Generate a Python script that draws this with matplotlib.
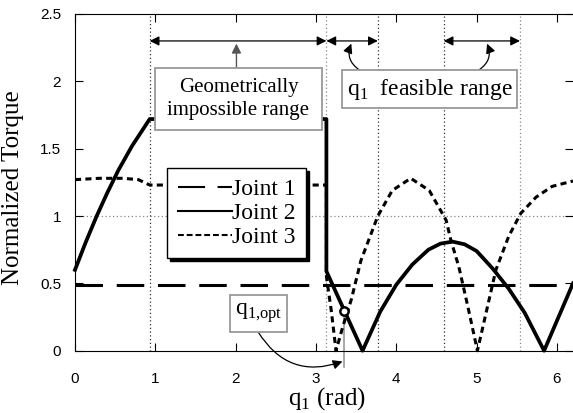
import matplotlib
matplotlib.use('Agg')
import matplotlib.pyplot as plt
from matplotlib.lines import Line2D
from matplotlib.patches import Rectangle

plt.rcParams['font.family'] = ['Liberation Serif', 'DejaVu Serif']
plt.rcParams['mathtext.fontset'] = 'custom'
plt.rcParams['mathtext.rm'] = 'Liberation Serif'

# data
joint1_q = [0.0, 6.2]
joint1_t = [0.49, 0.49]

joint2_q = [0.0, 0.13, 0.27, 0.40, 0.54, 0.71, 0.93, 3.13, 3.13, 3.58, 3.80, 4.00,
            4.20, 4.40, 4.55, 4.70, 4.85, 5.00, 5.20, 5.40, 5.60, 5.84, 6.20]
joint2_t = [0.60, 0.80, 1.00, 1.17, 1.34, 1.52, 1.72, 1.72, 0.59, 0.0, 0.29, 0.49,
            0.64, 0.75, 0.795, 0.81, 0.79, 0.74, 0.61, 0.46, 0.28, 0.0, 0.50]

joint3_q = [0.0, 0.3, 0.6, 0.79, 0.93, 1.5, 3.13, 3.13, 3.19, 3.25, 3.33, 3.44, 3.56,
            3.77, 3.95, 4.18, 4.41, 4.62, 4.68, 4.78, 4.89, 5.01, 5.24, 5.40, 5.55,
            5.74, 5.94, 6.20]
joint3_t = [1.27, 1.28, 1.28, 1.27, 1.23, 1.23, 1.23, 0.55, 0.30, 0.0, 0.17, 0.38, 0.67,
            1.00, 1.19, 1.28, 1.19, 0.97, 0.82, 0.62, 0.33, 0.0, 0.60, 0.85, 1.02,
            1.14, 1.22, 1.26]

q_opt = 3.355
t_opt = 0.295

# bounds of the ranges (rad)
q_impossible = (0.93, 3.13)
q_feasible_a = (3.13, 3.77)
q_feasible_b = (4.59, 5.54)
black_vlines = [0.93, 3.77, 4.59]
gray_vlines = [3.13, 5.54]

xticks = [0, 1, 2, 3, 4, 5, 6]
yticks = [0, 0.5, 1, 1.5, 2, 2.5]
ytick_labels = ['0', '0.5', '1', '1.5', '2', '2.5']

fig = plt.figure(figsize=(5.73, 4.13), dpi=100)
ax = fig.add_axes([75 / 573, 62.3 / 413, 498 / 573, 336.7 / 413])

ax.set_xlim(0, 6.2)
ax.set_ylim(0, 2.5)
ax.spines['right'].set_visible(False)
for s in ('left', 'top', 'bottom'):
    ax.spines[s].set_linewidth(0.8)

ax.set_xticks(xticks)
ax.set_yticks(yticks)
ax.set_xticklabels([str(v) for v in xticks], family='Liberation Sans', fontsize=11)
ax.set_yticklabels(ytick_labels, family='Liberation Sans', fontsize=11)
ax.tick_params(axis='both', direction='in', length=6, width=0.8,
               top=True, right=True)
ax.tick_params(axis='x', pad=15)
ax.tick_params(axis='y', pad=10)

# guide lines
ax.axhline(1.0, color='#888888', lw=0.9, ls=(0, (1, 2)), zorder=1)
for xv in black_vlines:
    ax.axvline(xv, color='#333333', lw=0.9, ls=(0, (1, 2)), zorder=1)
for xv in gray_vlines:
    ax.axvline(xv, color='#888888', lw=0.9, ls=(0, (1, 2)), zorder=1)

ax.plot(joint1_q, joint1_t, color='k', lw=2.2, dashes=(9, 4.5), zorder=3,
        clip_on=False)
ax.plot(joint3_q, joint3_t, color='k', lw=2.2, dashes=(2, 1.4), zorder=3,
        clip_on=False)
ax.plot(joint2_q, joint2_t, color='k', lw=2.7, zorder=4, clip_on=False)

# optimum marker and its guide
ax.plot([q_opt, q_opt], [t_opt, -0.12], color='#999999', lw=1.2, clip_on=False,
        zorder=2)
ax.plot([q_opt], [t_opt], 'o', ms=6, mfc='white', mec='k', mew=1.8, zorder=6)

# range arrows
arrow_y = 2.3
for a, b in (q_impossible, q_feasible_a, q_feasible_b):
    ax.annotate('', xy=(a, arrow_y), xytext=(b, arrow_y),
                arrowprops=dict(arrowstyle='<|-|>', color='k', lw=0.9,
                                mutation_scale=14, shrinkA=0, shrinkB=0))


def label_box(x0, x1, y0, y1, text, size):
    ax.add_patch(Rectangle((x0, y0), x1 - x0, y1 - y0, fc='white', ec='#999999',
                           lw=1.3, zorder=7))
    ax.text((x0 + x1) / 2, (y0 + y1) / 2, text, fontsize=size, ha='center',
            va='center', multialignment='center', linespacing=1.3, zorder=8)


label_box(0.99, 3.08, 1.64, 2.10, 'Geometrically\nimpossible range', 15)
ax.annotate('', xy=(2.01, 2.28), xytext=(2.01, 2.10),
            arrowprops=dict(arrowstyle='-|>', color='#555555', lw=1.0,
                            mutation_scale=14, shrinkA=0, shrinkB=0))

label_box(3.33, 5.50, 1.80, 2.085, r'q$_{\mathregular{1}}$  feasible range', 17)
ax.annotate('', xy=(3.44, 2.28), xytext=(3.54, 2.085),
            arrowprops=dict(arrowstyle='-|>', color='k', lw=0.9,
                            mutation_scale=14, shrinkA=0, shrinkB=0,
                            connectionstyle='arc3,rad=-0.4'))
ax.annotate('', xy=(5.13, 2.28), xytext=(5.03, 2.085),
            arrowprops=dict(arrowstyle='-|>', color='k', lw=0.9,
                            mutation_scale=14, shrinkA=0, shrinkB=0,
                            connectionstyle='arc3,rad=0.4'))

label_box(1.925, 2.64, 0.139, 0.414, r'q$_{\mathregular{1{,}opt}}$', 17)
ax.annotate('', xy=(3.33, -0.08), xytext=(2.28, 0.139), annotation_clip=False,
            arrowprops=dict(arrowstyle='-|>', color='k', lw=0.9,
                            mutation_scale=14, shrinkA=0, shrinkB=0,
                            connectionstyle='arc3,rad=0.4'))

# legend with thin handles
handles = [
    Line2D([], [], color='k', lw=1.5, dashes=(13, 6)),
    Line2D([], [], color='k', lw=1.5),
    Line2D([], [], color='k', lw=1.5, dashes=(2.8, 1.4)),
]
leg = ax.legend(handles, ['Joint 1', 'Joint 2', 'Joint 3'], loc='upper left',
                bbox_to_anchor=(0.185, 0.543), borderaxespad=0, fontsize=17,
                handlelength=2.3, handletextpad=0.0, labelspacing=0.1,
                borderpad=0.45, fancybox=False, framealpha=1,
                shadow={'color': 'k', 'alpha': 1}, edgecolor='k')
leg.get_frame().set_linewidth(1.0)
leg.set_zorder(9)

ax.set_ylabel('Normalized Torque', fontsize=18)
ax.yaxis.set_label_coords(-0.102, 0.483)
ax.set_xlabel(r'q$_{\mathregular{1}}$ (rad)', fontsize=18, va='center')
ax.xaxis.set_label_coords(0.506, -0.143)

fig.savefig('out.png', dpi=100)
